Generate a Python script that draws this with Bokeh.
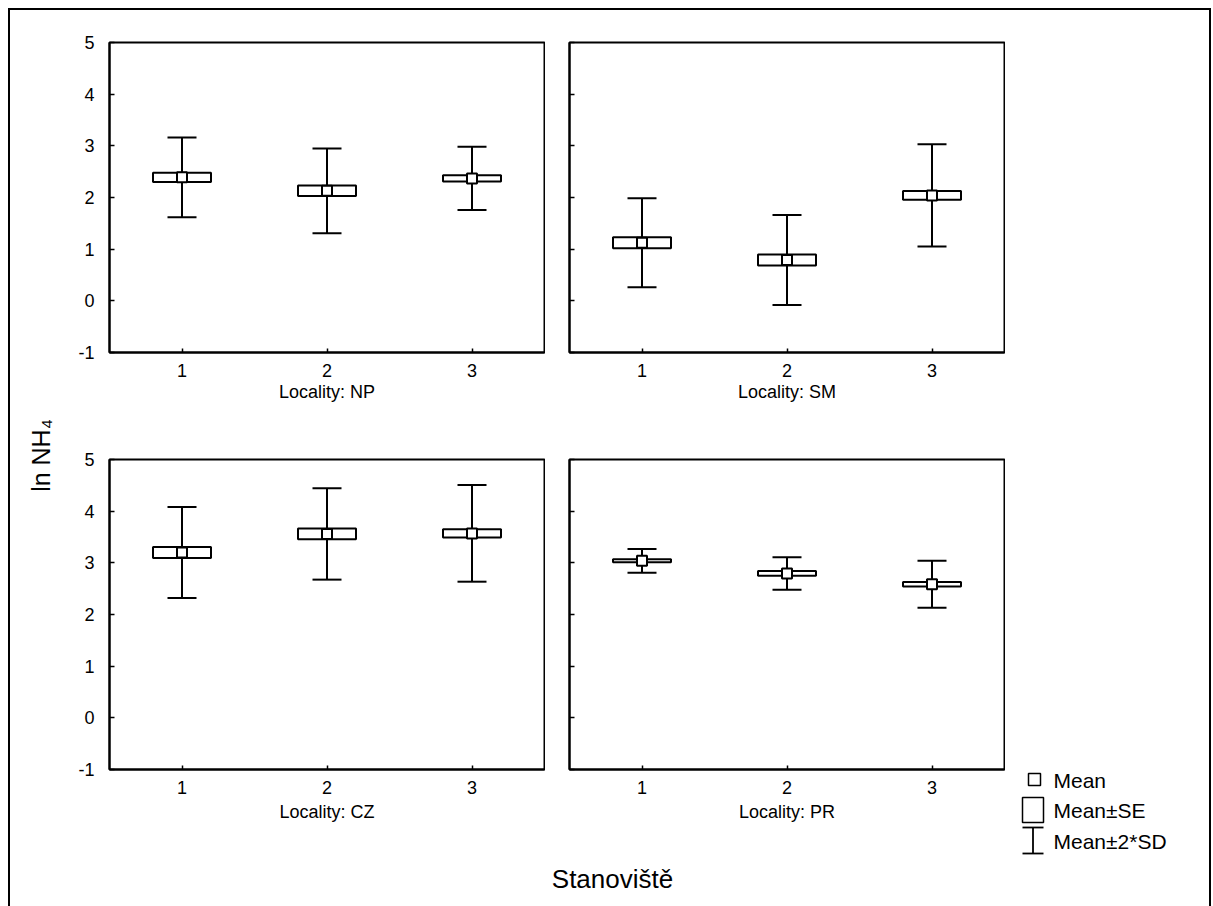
from bokeh.plotting import figure
from bokeh.models import (Range1d, FixedTicker, ColumnDataSource, Whisker, TeeHead,
                          Label, InlineStyleSheet)
from bokeh.layouts import row, column
from bokeh.embed import file_html
from bokeh.resources import INLINE

# ---------------- data ----------------
sites = [1, 2, 3]
x_ticks = [1, 2, 3]
y_ticks = [-1, 0, 1, 2, 3, 4, 5]
localities = ["NP", "SM", "CZ", "PR"]

np_mean = [2.39, 2.13, 2.37]
np_se = [0.09, 0.10, 0.06]
np_sd = [0.385, 0.41, 0.305]

sm_mean = [1.125, 0.79, 2.04]
sm_se = [0.105, 0.105, 0.085]
sm_sd = [0.43, 0.435, 0.495]

cz_mean = [3.20, 3.56, 3.57]
cz_se = [0.105, 0.105, 0.08]
cz_sd = [0.44, 0.4425, 0.4675]

pr_mean = [3.04, 2.795, 2.585]
pr_se = [0.03, 0.045, 0.045]
pr_sd = [0.115, 0.1575, 0.2275]

legend_labels = ["Mean", "Mean±SE", "Mean±2*SD"]
x_title = "Stanoviště"
y_title = "ln NH\u2084"

FONT = "Liberation Sans"


def panel(mean, se, sd, name, w, h, bl, br, bt, bb, ylabels, lab_standoff):
    p = figure(width=w, height=h, x_range=Range1d(0.5, 3.5), y_range=Range1d(-1, 5),
               output_backend="svg", toolbar_location=None,
               min_border_left=bl, min_border_right=br, min_border_top=bt, min_border_bottom=bb)
    p.xgrid.visible = False
    p.ygrid.visible = False
    p.outline_line_color = "black"
    p.outline_line_width = 2
    p.outline_line_alpha = 1.0
    p.background_fill_color = "white"
    p.border_fill_alpha = 0

    xa = p.xaxis[0]
    xa.ticker = FixedTicker(ticks=x_ticks)
    xa.major_tick_in = 4
    xa.major_tick_out = 0
    xa.minor_tick_line_color = None
    xa.axis_line_color = "black"
    xa.axis_line_width = 2
    xa.major_tick_line_width = 1.5
    xa.major_label_text_font = FONT
    xa.major_label_text_font_size = "18px"
    xa.major_label_text_color = "black"
    xa.major_label_standoff = 11
    xa.axis_label = "Locality: " + name
    xa.axis_label_text_font = FONT
    xa.axis_label_text_font_style = "normal"
    xa.axis_label_text_font_size = "18px"
    xa.axis_label_text_color = "black"
    xa.axis_label_standoff = lab_standoff

    ya = p.yaxis[0]
    ya.ticker = FixedTicker(ticks=y_ticks)
    ya.major_tick_in = 5
    ya.major_tick_out = 0
    ya.minor_tick_line_color = None
    ya.axis_line_color = "black"
    ya.axis_line_width = 2
    ya.major_tick_line_width = 1.5
    ya.major_label_text_font = FONT
    ya.major_label_text_color = "black"
    if ylabels:
        ya.major_label_text_font_size = "18px"
        ya.major_label_standoff = 15
        ya.major_label_overrides = {t: str(t) for t in y_ticks}
    else:
        ya.major_label_overrides = {t: "" for t in y_ticks}
        ya.major_label_text_font_size = "1px"
        ya.major_label_standoff = 0

    lo2 = [m - 2 * s for m, s in zip(mean, sd)]
    hi2 = [m + 2 * s for m, s in zip(mean, sd)]
    lo1 = [m - s for m, s in zip(mean, se)]
    hi1 = [m + s for m, s in zip(mean, se)]
    src = ColumnDataSource(dict(x=sites, mean=mean, lo2=lo2, hi2=hi2, lo1=lo1, hi1=hi1))

    wh = Whisker(base="x", lower="lo2", upper="hi2", source=src,
                 line_color="black", line_width=2,
                 lower_head=TeeHead(size=29, line_color="black", line_width=2),
                 upper_head=TeeHead(size=29, line_color="black", line_width=2))
    wh.level = "underlay"
    p.add_layout(wh)
    p.vbar(x="x", width=0.4, top="hi1", bottom="lo1", source=src,
           fill_color="white", line_color="black", line_width=2)
    p.scatter(x="x", y="mean", source=src, marker="square", size=10,
              fill_color="white", line_color="black", line_width=2)
    return p


def blank(x0, y0, w, h):
    f = figure(width=w, height=h, x_range=Range1d(x0, x0 + w), y_range=Range1d(y0 + h, y0),
               output_backend="svg", toolbar_location=None,
               x_axis_location=None, y_axis_location=None,
               min_border_left=0, min_border_right=0, min_border_top=0, min_border_bottom=0)
    f.frame_align = False
    f.xgrid.visible = False
    f.ygrid.visible = False
    f.outline_line_color = None
    f.background_fill_alpha = 0
    f.border_fill_alpha = 0
    return f


# page geometry
ytitle = blank(0, 0, 60, 906)
top_strip = blank(60, 0, 1153, 25)
p1 = panel(np_mean, np_se, np_sd, localities[0], 485, 385, 49, 1, 17, 58, True, 2)
p2 = panel(sm_mean, sm_se, sm_sd, localities[1], 460, 385, 24, 1, 17, 58, False, 2)
filler = blank(1005, 25, 208, 385)
p3 = panel(cz_mean, cz_se, cz_sd, localities[2], 485, 422, 49, 1, 49, 63, True, 5)
p4 = panel(pr_mean, pr_se, pr_sd, localities[3], 460, 422, 24, 1, 49, 63, False, 5)
bottom_strip = blank(60, 832, 945, 74)
legend_fig = blank(1005, 410, 208, 496)

ytitle.add_layout(Label(x=40, y=455, text=y_title, angle=1.5707963,
                        text_align="center", text_baseline="middle",
                        text_font=FONT, text_font_size="25px", text_color="black"))
bottom_strip.add_layout(Label(x=612, y=878, text=x_title,
                              text_align="center", text_baseline="middle",
                              text_font=FONT, text_font_size="26px", text_color="black"))

# legend symbols
legend_fig.quad(left=[1028], right=[1040], top=[773], bottom=[785],
                fill_color="white", line_color="black", line_width=1.5)
legend_fig.quad(left=[1022], right=[1043], top=[797], bottom=[822],
                fill_color="white", line_color="black", line_width=1.5)
legend_fig.segment(x0=[1032.5, 1022, 1022], y0=[827, 827, 853],
                   x1=[1032.5, 1043, 1043], y1=[853, 827, 853],
                   line_color="black", line_width=1.8)
for lab, ypix in zip(legend_labels, [780, 810, 841]):
    legend_fig.add_layout(Label(x=1053, y=ypix, text=lab, text_align="left", text_baseline="middle",
                                text_font=FONT, text_font_size="21px", text_color="black"))

page_border = InlineStyleSheet(css="""
:host { position: relative; background: white; }
:host::after {
  content: ''; position: absolute; left: 8px; top: 8px; width: 1203px; height: 900px;
  border: 2px solid #000; border-bottom: none; box-sizing: border-box;
  pointer-events: none; z-index: 10;
}
""")

layout = row(ytitle,
             column(top_strip,
                    row(p1, p2, filler),
                    row(column(row(p3, p4), bottom_strip), legend_fig)),
             stylesheets=[page_border])
open("out.html", "w").write(file_html(layout, INLINE))
